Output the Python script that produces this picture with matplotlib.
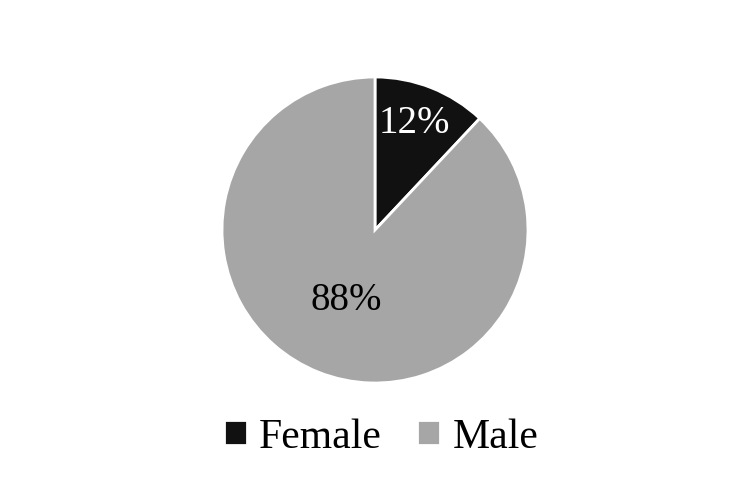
import matplotlib.pyplot as plt

labels = ['Female', 'Male']
shares = [12, 88]
colors = ['#111111', '#a6a6a6']
text_colors = ['white', 'black']

plt.rcParams['font.family'] = ['Liberation Serif', 'DejaVu Serif']

fig = plt.figure(figsize=(7.49, 4.78), dpi=100)
ax = fig.add_axes([0, 0, 1, 1])

wedges, texts, autotexts = ax.pie(shares, colors=colors, startangle=90, counterclock=False,
                                  center=(375, 248), radius=153, autopct='%1.0f%%',
                                  pctdistance=0.75, frame=True,
                                  wedgeprops=dict(edgecolor='white', linewidth=2),
                                  textprops=dict(fontsize=28))
ax.set_xlim(0, 749)
ax.set_ylim(0, 478)
ax.set_aspect('auto')
ax.axis('off')

for t, c in zip(autotexts, text_colors):
    t.set_color(c)
autotexts[0].set_position((414, 355))
# Excel "best fit" placement for the big slice
autotexts[1].set_position((346, 177))

ax.legend(wedges, labels, loc='center', bbox_to_anchor=(0.509, 0.085), ncol=2,
          frameon=False, fontsize=30, handlelength=0.55, handleheight=0.55,
          handletextpad=0.3, columnspacing=0.85)

plt.savefig('out.png', dpi=100)
